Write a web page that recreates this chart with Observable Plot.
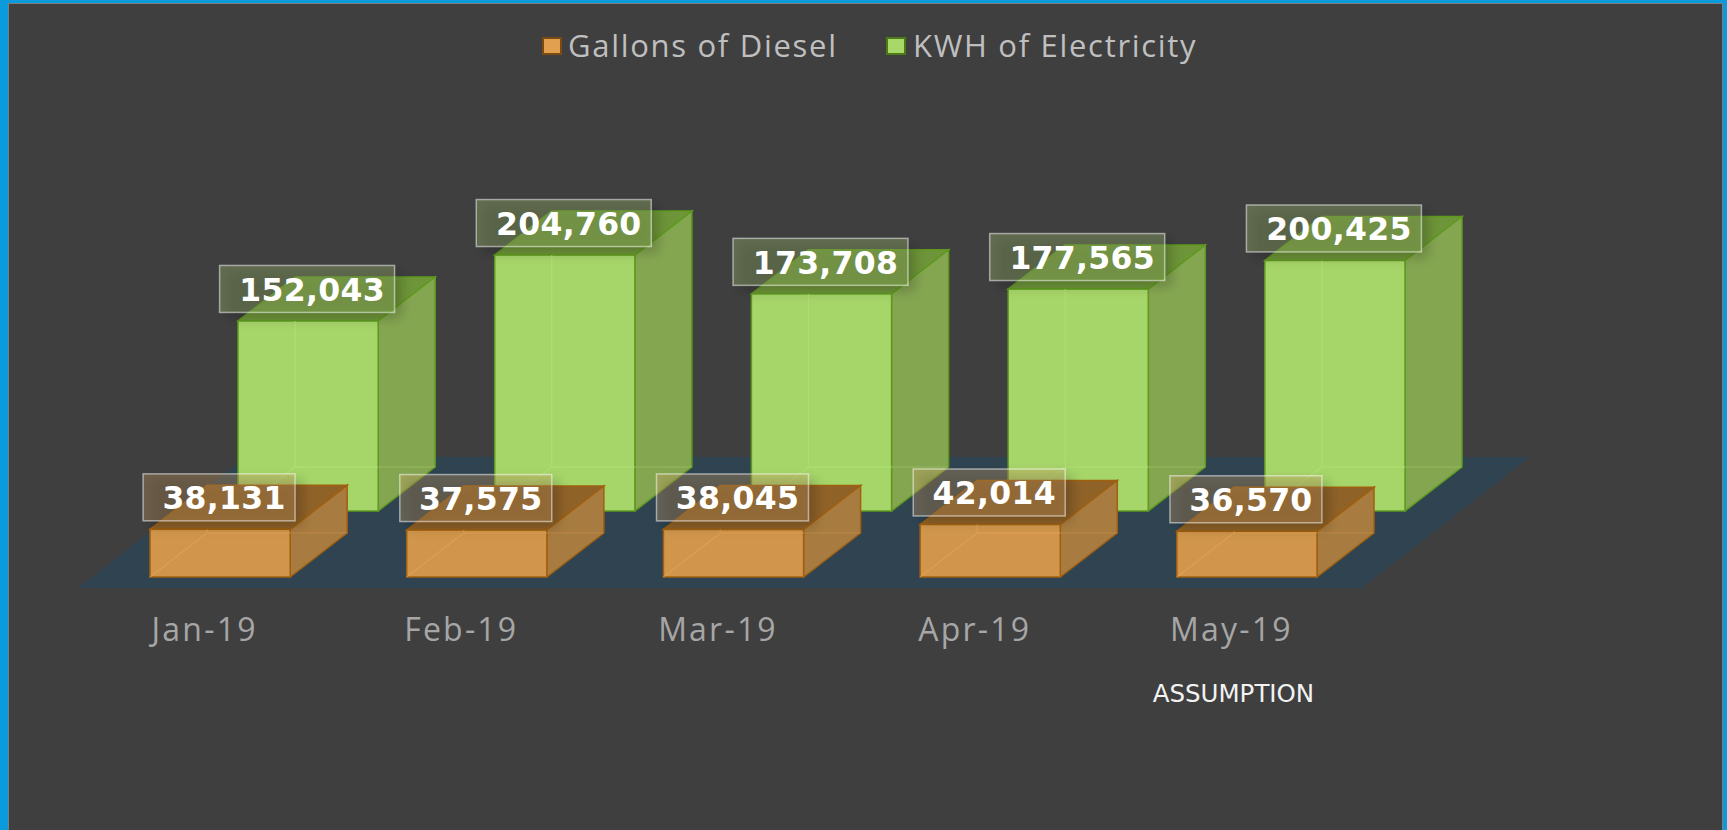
<!DOCTYPE html>
<html><head><meta charset="utf-8">
<script src="https://cdn.jsdelivr.net/npm/d3@7"></script>
<script src="https://cdn.jsdelivr.net/npm/@observablehq/plot@0.6"></script>
<style>
html,body{margin:0;padding:0;background:#3f3f3f;width:1727px;height:830px;overflow:hidden}
#frame{position:absolute;left:0;top:0;width:1727px;height:830px;box-sizing:border-box;border-left:8px solid #0b9bdd;border-top:3px solid #0b9bdd;border-right:4px solid #0b9bdd;pointer-events:none}
#inner{position:absolute;left:8px;top:3px;width:1715px;height:827px;box-sizing:border-box;border-left:1px solid #7d7d7d;border-top:1px solid #7d7d7d;border-right:1px solid #7d7d7d;pointer-events:none}
#chart{position:absolute;left:0;top:0}
.lg{position:absolute;font:400 31px "Open Sans",sans-serif;color:#bfbfbf;letter-spacing:1.7px;line-height:40px;white-space:nowrap}
.sw{position:absolute;box-sizing:border-box;width:20px;height:18px;border:2px solid}
</style></head>
<body>
<div id="chart"></div>
<div id="frame"></div><div id="inner"></div>
<div class="sw" style="left:542px;top:37px;background:#e0a050;border-color:#7a4a12"></div>
<div class="lg" style="left:568px;top:25px">Gallons of Diesel</div>
<div class="sw" style="left:886px;top:37px;background:#a9d86a;border-color:#4c7a16"></div>
<div class="lg" style="left:913px;top:25px">KWH of Electricity</div>
<script>
const months = ["Jan-19","Feb-19","Mar-19","Apr-19","May-19"];
const diesel = [38131,37575,38045,42014,36570];
const electricity = [152043,204760,173708,177565,200425];
const note = "ASSUMPTION";

const rowOf = (vals) => months.map((m,i)=>({month:m,value:vals[i]}));
const fmt = d3.format(",");
const DX=57, DY=44;   // depth of a box, px
const ns="http://www.w3.org/2000/svg";
function el(tag,attrs,parent){const e=document.createElementNS(ns,tag);for(const k in attrs)e.setAttribute(k,attrs[k]);parent.appendChild(e);return e;}
const pts=a=>a.map(p=>p.join(",")).join(" ");

const floor = (_,{x,y})=>{
  const g=document.createElementNS(ns,"g");
  const bw=x.bandwidth();
  const x0=x(months[0])-72, x1=x(months[4])+bw+45, y0=y(0)+11;
  el("polygon",{points:pts([[x0,y0],[x1,y0],[x1+168,y0-131],[x0+168,y0-131]]),fill:"#2f4351"},g);
  return g;
};
function boxes(data,off,c){
  return (_,{x,y})=>{
    const g=document.createElementNS(ns,"g");
    const bw=x.bandwidth();
    for(const d of data){
      const l=x(d.month)+off[0], r=l+bw, b=y(0)+off[1], t=y(d.value)+off[1];
      el("polygon",{points:pts([[l,t],[l+DX,t-DY],[r+DX,t-DY],[r,t]]),fill:c.top,stroke:c.edge,"stroke-width":1.5},g);
      el("polygon",{points:pts([[r,t],[r+DX,t-DY],[r+DX,b-DY],[r,b]]),fill:c.side,stroke:c.edge,"stroke-width":1.5},g);
      el("rect",{x:l,y:t,width:bw,height:b-t,fill:c.front,stroke:c.edge,"stroke-width":1.5},g);
      // back edges seen through the translucent box
      const vert = b-DY>t ? `M${l+DX},${t}V${b-DY}H${r}` : "";
      el("path",{d:`${vert}M${l},${b}L${l+DX},${Math.max(b-DY,t)}`,stroke:c.inner,"stroke-opacity":.55,fill:"none","stroke-width":1.5},g);
      el("path",{d:`M${r},${b-DY}H${r+DX}`,stroke:c.inner,"stroke-opacity":.25,fill:"none","stroke-width":1.5},g);
    }
    return g;
  };
}
function labels(data,off,c,w){
  return (_,{x,y})=>{
    const g=document.createElementNS(ns,"g");
    const defs=el("defs",{},g);
    const f=el("filter",{id:"b"+w,x:"-30%",y:"-50%",width:"160%",height:"200%"},defs);
    el("feGaussianBlur",{stdDeviation:6},f);
    const bw=x.bandwidth();
    for(const d of data){
      const cx=x(d.month)+off[0]+bw/2-1, cy=y(d.value)+off[1]-32;
      el("rect",{x:cx-w/2+7,y:cy-23.5+6,width:w,height:47,fill:"#000","fill-opacity":.2,filter:`url(#b${w})`},g);
      el("rect",{x:cx-w/2,y:cy-23.5,width:w,height:47,fill:c.box,"fill-opacity":.33,stroke:"#fff","stroke-opacity":.5,"stroke-width":1.5},g);
      const t=el("text",{x:cx+5,y:cy+1,"text-anchor":"middle","dominant-baseline":"central",fill:"#fff","font-family":"DejaVu Sans","font-weight":"bold","font-size":31.5,style:"letter-spacing:.3px"},g);
      t.textContent=fmt(d.value);
    }
    return g;
  };
}
const green={front:"#a6d569",side:"#85a651",top:"#6e9539",edge:"#5f9a1f",inner:"#b2e377",box:"#a8c872"};
const orange={front:"#d1964c",side:"#a87c40",top:"#8f6228",edge:"#a0600f",inner:"#e8a555",box:"#cda066"};

const plot = Plot.plot({
  width:1727, height:830,
  marginLeft:150, marginRight:410, marginTop:2, marginBottom:253,
  style:{background:"transparent",overflow:"visible"},
  x:{type:"band",domain:months,paddingInner:.454,paddingOuter:0,align:0,round:false,label:null},
  y:{domain:[0,460000],axis:null},
  marks:[
    Plot.axisX({anchor:"bottom",tickSize:0,tickPadding:41,dx:-16,fontSize:32,fontWeight:400,fontFamily:"Open Sans",fill:"#a6a6a6",label:null,tickFormat:d=>d}),
    floor,
    boxes(rowOf(electricity),[88,-66],green),
    boxes(rowOf(diesel),[0,0],orange),
    labels(rowOf(electricity),[88,-66],green,175),
    labels(rowOf(diesel),[0,0],orange,152),
    Plot.text([note],{x:()=>months[4],frameAnchor:"bottom",dy:124,dx:-14,fontFamily:"DejaVu Sans",fontSize:24.5,fill:"#f2f2f2"})
  ]
});
document.getElementById("chart").appendChild(plot);
d3.select(plot).selectAll("[aria-label='x-axis tick label'] text").style("letter-spacing","2.2px");
</script>
</body></html>
